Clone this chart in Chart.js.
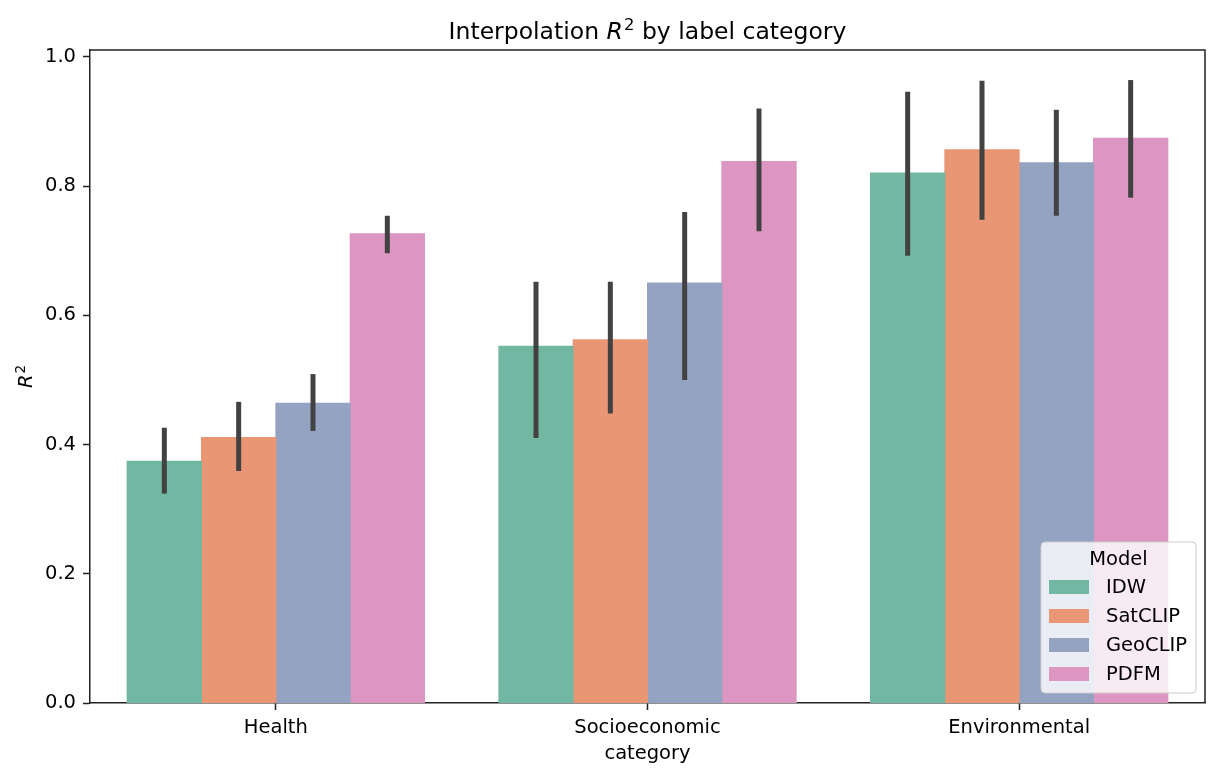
<!DOCTYPE html>
<html>
<head>
<meta charset="utf-8">
<title>Interpolation R2 by label category</title>
<script src="https://cdn.jsdelivr.net/npm/chart.js@4.4.1/dist/chart.umd.min.js"></script>
<style>
  html, body { margin: 0; padding: 0; background: #fff; }
  canvas { display: block; }
</style>
</head>
<body>
<canvas id="chart" width="1220" height="777"></canvas>
<script>
// categories and models
const categories = ['Health', 'Socioeconomic', 'Environmental'];
const models = ['IDW', 'SatCLIP', 'GeoCLIP', 'PDFM'];

// mean R2 per category
const idwMean = [0.374, 0.552, 0.820];
const satclipMean = [0.411, 0.562, 0.856];
const geoclipMean = [0.464, 0.650, 0.836];
const pdfmMean = [0.726, 0.838, 0.874];

// confidence interval ends (error bars)
const idwLow = [0.324, 0.410, 0.692];
const idwHigh = [0.426, 0.652, 0.946];
const satclipLow = [0.359, 0.448, 0.748];
const satclipHigh = [0.466, 0.652, 0.963];
const geoclipLow = [0.421, 0.500, 0.754];
const geoclipHigh = [0.509, 0.760, 0.918];
const pdfmLow = [0.696, 0.730, 0.782];
const pdfmHigh = [0.754, 0.920, 0.964];

const yTicks = [0, 0.2, 0.4, 0.6, 0.8, 1.0];

const colors = ['#72b7a1', '#e99675', '#95a3c3', '#dc96c1']; // Set2, desaturated
const FONT = '"DejaVu Sans", Verdana, sans-serif';
const AXIS = '#222222';

const means = [idwMean, satclipMean, geoclipMean, pdfmMean];
const lows = [idwLow, satclipLow, geoclipLow, pdfmLow];
const highs = [idwHigh, satclipHigh, geoclipHigh, pdfmHigh];

const datasets = models.map((m, i) => ({
  label: m,
  data: means[i],
  errLow: lows[i],
  errHigh: highs[i],
  backgroundColor: colors[i],
  borderWidth: 0,
  inflateAmount: 0.5,
  barPercentage: 1.0,
  categoryPercentage: 0.8,
}));

// draws "R" in italic followed by a raised "2", returns width
function drawR2(ctx, x, y, size, measureOnly) {
  ctx.font = 'italic ' + size + 'px ' + FONT;
  const wR = ctx.measureText('R').width;
  if (!measureOnly) ctx.fillText('R', x, y);
  ctx.font = (size * 0.7) + 'px ' + FONT;
  const w2 = ctx.measureText('2').width;
  if (!measureOnly) ctx.fillText('2', x + wR + size * 0.05, y - size * 0.38);
  return wR + size * 0.05 + w2;
}

const decorPlugin = {
  id: 'decor',
  afterDatasetsDraw(chart) {
    const ctx = chart.ctx;
    const yScale = chart.scales.y;
    const area = chart.chartArea;

    // error bars
    ctx.save();
    ctx.strokeStyle = '#424242';
    ctx.lineWidth = 5;
    ctx.lineCap = 'butt';
    chart.data.datasets.forEach((ds, i) => {
      const meta = chart.getDatasetMeta(i);
      meta.data.forEach((bar, j) => {
        ctx.beginPath();
        ctx.moveTo(bar.x, yScale.getPixelForValue(ds.errLow[j]));
        ctx.lineTo(bar.x, yScale.getPixelForValue(ds.errHigh[j]));
        ctx.stroke();
      });
    });
    ctx.restore();

    // top and right spines
    ctx.save();
    ctx.strokeStyle = AXIS;
    ctx.lineWidth = 1.5;
    ctx.beginPath();
    ctx.moveTo(area.left, area.top);
    ctx.lineTo(area.right, area.top);
    ctx.lineTo(area.right, area.bottom);
    ctx.stroke();
    ctx.restore();
  },
  afterDraw(chart) {
    const ctx = chart.ctx;
    const area = chart.chartArea;
    const cx = (area.left + area.right) / 2;

    ctx.save();
    ctx.fillStyle = '#000';
    ctx.textBaseline = 'alphabetic';
    ctx.textAlign = 'left';

    // title
    const tSize = 23.5;
    ctx.font = tSize + 'px ' + FONT;
    const pre = 'Interpolation ';
    const post = ' by label category';
    const wPre = ctx.measureText(pre).width;
    const wPost = ctx.measureText(post).width;
    const wR2 = drawR2(ctx, 0, 0, tSize, true);
    let x = cx - (wPre + wR2 + wPost) / 2;
    const ty = 39;
    ctx.font = tSize + 'px ' + FONT;
    ctx.fillText(pre, x, ty);
    x += wPre;
    x += drawR2(ctx, x, ty, tSize, false);
    ctx.font = tSize + 'px ' + FONT;
    ctx.fillText(post, x, ty);

    // x axis title
    ctx.font = '19.5px ' + FONT;
    ctx.textAlign = 'center';
    ctx.fillText('category', cx, 759);

    // y axis title
    ctx.save();
    ctx.translate(32, (area.top + area.bottom) / 2);
    ctx.rotate(-Math.PI / 2);
    ctx.textAlign = 'left';
    const wy = drawR2(ctx, 0, 0, 19.5, true);
    drawR2(ctx, -wy / 2, 0, 19.5, false);
    ctx.restore();

    // legend box
    const lx = 1041, ly = 542, lw = 155, lh = 151;
    ctx.beginPath();
    ctx.roundRect(lx, ly, lw, lh, 4);
    ctx.fillStyle = 'rgba(255,255,255,0.8)';
    ctx.fill();
    ctx.strokeStyle = '#cccccc';
    ctx.lineWidth = 1;
    ctx.stroke();

    ctx.fillStyle = '#000';
    ctx.font = '19.5px ' + FONT;
    ctx.textAlign = 'center';
    ctx.textBaseline = 'middle';
    ctx.fillText('Model', lx + lw / 2, 560);

    ctx.textAlign = 'left';
    chart.data.datasets.forEach((ds, i) => {
      const rowY = 587 + i * 29;
      ctx.fillStyle = ds.backgroundColor;
      ctx.fillRect(1049, rowY - 7, 40, 14);
      ctx.fillStyle = '#000';
      ctx.fillText(ds.label, 1106, rowY + 1);
    });
    ctx.restore();
  }
};

const ctx = document.getElementById('chart').getContext('2d');

new Chart(ctx, {
  type: 'bar',
  data: {
    labels: categories,
    datasets: datasets,
  },
  options: {
    responsive: false,
    animation: false,
    devicePixelRatio: 1,
    layout: {
      padding: { top: 50, right: 15, left: 0, bottom: 0 },
    },
    plugins: {
      legend: { display: false },
      title: { display: false },
      tooltip: { enabled: false },
    },
    scales: {
      x: {
        grid: {
          display: true,
          drawOnChartArea: false,
          drawTicks: true,
          offset: false,
          tickLength: 7,
          tickWidth: 1.5,
          tickColor: AXIS,
        },
        border: { display: true, color: AXIS, width: 1.5 },
        ticks: {
          color: '#000',
          padding: 6,
          font: { family: FONT, size: 19.5 },
          maxRotation: 0,
        },
        afterFit: (scale) => { scale.height = 74; },
      },
      y: {
        min: 0,
        max: 1.0105,
        afterBuildTicks: (scale) => {
          scale.ticks = yTicks.map(v => ({ value: v }));
        },
        ticks: {
          color: '#000',
          padding: 7,
          font: { family: FONT, size: 19.5 },
          callback: (v) => Number(v).toFixed(1),
        },
        grid: {
          display: true,
          drawOnChartArea: false,
          drawTicks: true,
          tickLength: 7,
          tickWidth: 1.5,
          tickColor: AXIS,
        },
        border: { display: true, color: AXIS, width: 1.5 },
        afterFit: (scale) => { scale.width = 90; },
      },
    },
  },
  plugins: [decorPlugin],
});
</script>
</body>
</html>
